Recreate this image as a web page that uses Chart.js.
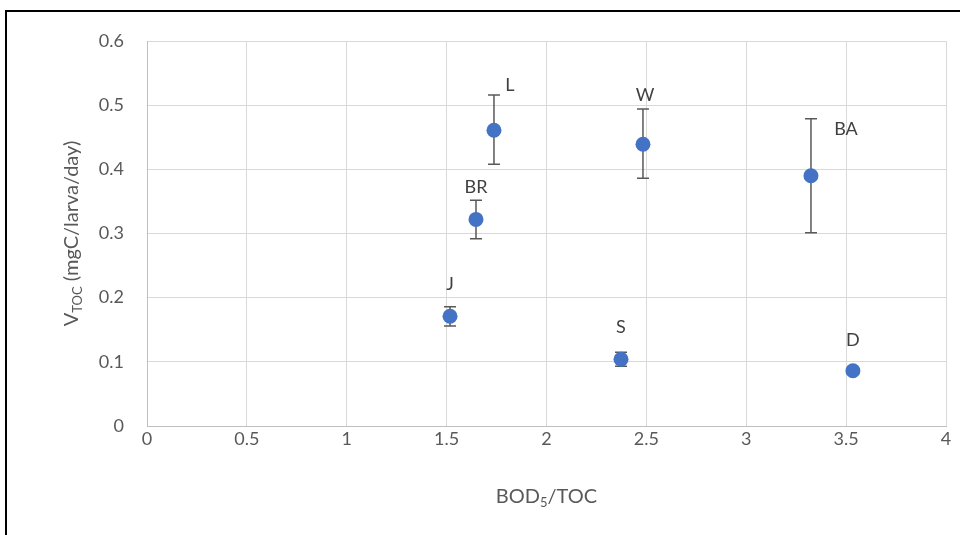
<!DOCTYPE html>
<html>
<head>
<meta charset="utf-8">
<script src="https://cdn.jsdelivr.net/npm/chart.js@4.4.0/dist/chart.umd.min.js"></script>
<style>
  html, body { margin: 0; padding: 0; background: #fff; }
  #wrap { position: relative; width: 960px; height: 535px; overflow: hidden; }
  #frame { position: absolute; left: 5px; top: 10px; width: 1000px; height: 600px; border: 2px solid #000; box-sizing: border-box; pointer-events: none; }
  canvas { position: absolute; left: 0; top: 0; }
</style>
</head>
<body>
<div id="wrap">
  <canvas id="c" width="960" height="535"></canvas>
  <div id="frame"></div>
</div>
<script>
// ---- data ----
const names   = ['J', 'BR', 'L', 'W', 'S', 'BA', 'D'];
const bodToc  = [1.517, 1.647, 1.737, 2.483, 2.373, 3.324, 3.534];
const vToc    = [0.171, 0.322, 0.461, 0.439, 0.104, 0.390, 0.086];
const errPlus = [0.015, 0.030, 0.055, 0.055, 0.011, 0.089, 0.000];
const errMinus= [0.015, 0.030, 0.053, 0.053, 0.011, 0.089, 0.000];
const xTicks  = [0, 0.5, 1, 1.5, 2, 2.5, 3, 3.5, 4];
const yTicks  = [0, 0.1, 0.2, 0.3, 0.4, 0.5, 0.6];

// label placement (pixel offsets from the point, like moved Excel labels)
const labelOffsets = [[0,-32],[0,-32],[16,-45],[2,-49],[0,-32],[35,-47],[0,-31]];

const FONT = 'Lato, "Open Sans", sans-serif';
const TICK_COLOR = '#595959';

const points = bodToc.map((x, i) => ({ x: x, y: vToc[i] }));

const errorBars = {
  id: 'errorBars',
  beforeDatasetsDraw(chart) {
    const { ctx, scales: { x, y } } = chart;
    ctx.save();
    ctx.strokeStyle = '#595959';
    ctx.lineWidth = 1.5;
    points.forEach((p, i) => {
      if (!errPlus[i] && !errMinus[i]) return;
      const px = x.getPixelForValue(p.x);
      const top = y.getPixelForValue(p.y + errPlus[i]);
      const bot = y.getPixelForValue(p.y - errMinus[i]);
      ctx.beginPath();
      ctx.moveTo(px, top); ctx.lineTo(px, bot);
      ctx.moveTo(px - 6, top); ctx.lineTo(px + 6, top);
      ctx.moveTo(px - 6, bot); ctx.lineTo(px + 6, bot);
      ctx.stroke();
    });
    ctx.restore();
  },
  afterDatasetsDraw(chart) {
    const { ctx, scales: { x, y } } = chart;
    ctx.save();
    ctx.fillStyle = '#404040';
    ctx.font = '18px ' + FONT;
    ctx.textAlign = 'center';
    ctx.textBaseline = 'middle';
    points.forEach((p, i) => {
      const px = x.getPixelForValue(p.x) + labelOffsets[i][0];
      const py = y.getPixelForValue(p.y) + labelOffsets[i][1];
      ctx.fillText(names[i], px, py);
    });
    ctx.restore();
  },
  afterDraw(chart) {
    const { ctx, chartArea } = chart;
    ctx.save();
    ctx.fillStyle = TICK_COLOR;
    ctx.textBaseline = 'middle';
    // x title: BOD5/TOC
    const big = '20px ' + FONT, small = '13px ' + FONT;
    ctx.font = big; const w1 = ctx.measureText('BOD').width;
    ctx.font = small; const w2 = ctx.measureText('5').width;
    ctx.font = big; const w3 = ctx.measureText('/TOC').width;
    const cx = (chartArea.left + chartArea.right) / 2;
    let sx = cx - (w1 + w2 + w3) / 2;
    const ty = 497;
    ctx.textAlign = 'left';
    ctx.font = big; ctx.fillText('BOD', sx, ty);
    ctx.font = small; ctx.fillText('5', sx + w1, ty + 6);
    ctx.font = big; ctx.fillText('/TOC', sx + w1 + w2, ty);
    // y title: VTOC (mgC/larva/day)
    ctx.translate(72, (chartArea.top + chartArea.bottom) / 2);
    ctx.rotate(-Math.PI / 2);
    ctx.font = big; const a = ctx.measureText('V').width;
    ctx.font = small; const b = ctx.measureText('TOC').width;
    ctx.font = big; const c = ctx.measureText(' (mgC/larva/day)').width;
    let s = -(a + b + c) / 2;
    ctx.font = big; ctx.fillText('V', s, 0);
    ctx.font = small; ctx.fillText('TOC', s + a, 6);
    ctx.font = big; ctx.fillText(' (mgC/larva/day)', s + a + b, 0);
    ctx.restore();
  }
};

new Chart(document.getElementById('c'), {
  type: 'scatter',
  data: {
    datasets: [{
      data: points,
      backgroundColor: '#4472C4',
      borderColor: '#4472C4',
      pointRadius: 7.5,
      pointHoverRadius: 7.5,
      borderWidth: 0
    }]
  },
  options: {
    responsive: false,
    animation: false,
    devicePixelRatio: 1,
    layout: { padding: { left: 0, top: 41, right: 14, bottom: 0 } },
    plugins: { legend: { display: false }, tooltip: { enabled: false } },
    scales: {
      x: {
        type: 'linear', min: 0, max: 4,
        afterBuildTicks(scale) { scale.ticks = xTicks.map(v => ({ value: v })); },
        afterFit(scale) { scale.height = 109; },
        grid: { color: '#d9d9d9', lineWidth: 1, drawTicks: false },
        border: { color: '#bfbfbf', width: 1 },
        ticks: { color: TICK_COLOR, font: { family: FONT, size: 18 }, padding: 2,
                 callback: v => String(v) }
      },
      y: {
        type: 'linear', min: 0, max: 0.6,
        afterBuildTicks(scale) { scale.ticks = yTicks.map(v => ({ value: v })); },
        afterFit(scale) { scale.width = 147; },
        grid: { color: '#d9d9d9', lineWidth: 1, drawTicks: false },
        border: { color: '#bfbfbf', width: 1 },
        ticks: { color: TICK_COLOR, font: { family: FONT, size: 18 }, padding: 23,
                 callback: v => String(v) }
      }
    }
  },
  plugins: [errorBars]
});
</script>
</body>
</html>
